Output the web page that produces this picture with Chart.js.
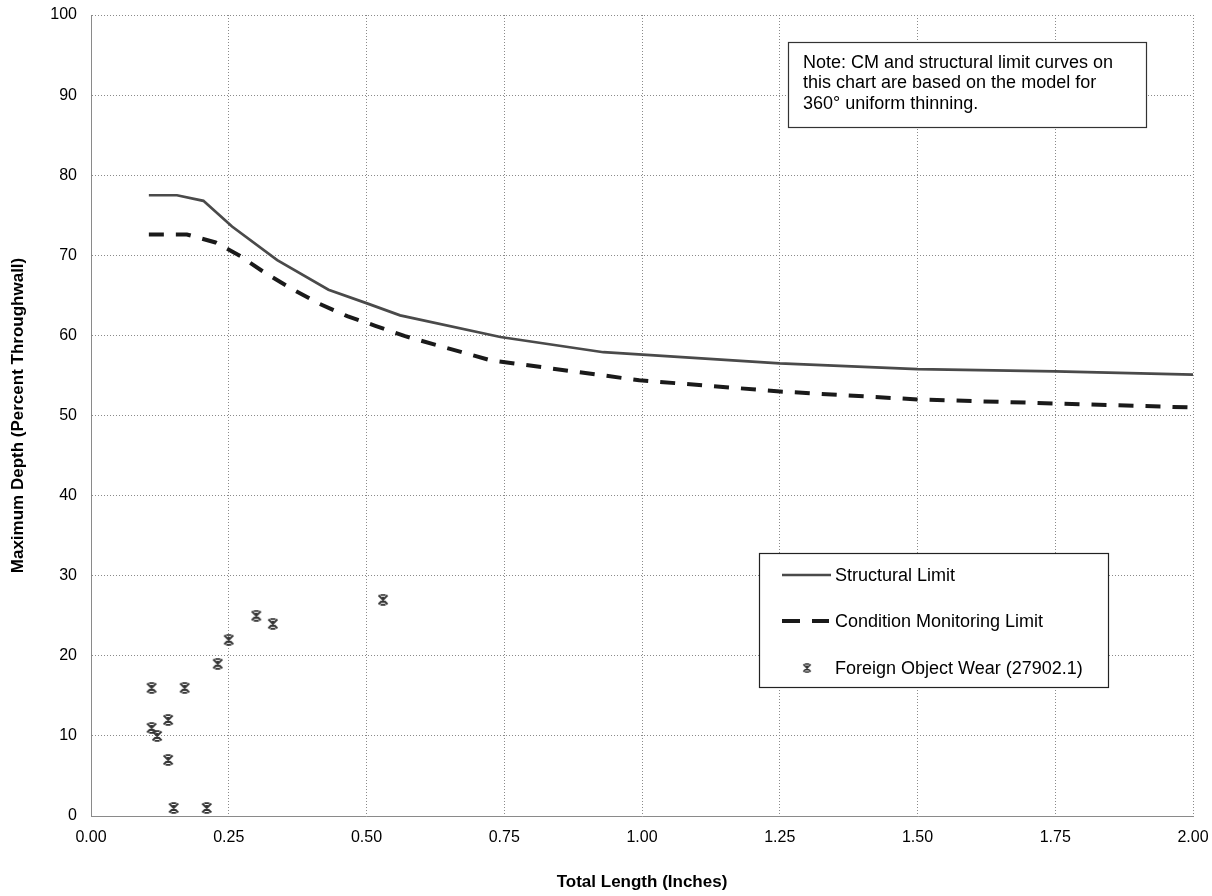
<!DOCTYPE html>
<html>
<head>
<meta charset="utf-8">
<script src="https://cdn.jsdelivr.net/npm/chart.js@4.4.0/dist/chart.umd.min.js"></script>
<style>
html,body{margin:0;padding:0;background:#fff;}
#wrap{width:1212px;height:896px;position:relative;}
</style>
</head>
<body>
<div id="wrap"><canvas id="c" width="1212" height="896"></canvas></div>
<script>
// ---- data ----
const structuralX = [0.105,0.156,0.204,0.256,0.338,0.431,0.501,0.561,0.743,0.93,1.25,1.50,1.75,2.00];
const structuralY = [77.5,77.5,76.8,73.6,69.4,65.7,64.0,62.5,59.8,57.9,56.5,55.8,55.5,55.1];
const cmX = [0.105,0.174,0.226,0.271,0.316,0.365,0.413,0.465,0.516,0.570,0.725,0.995,1.25,1.50,1.75,2.00];
const cmY = [72.6,72.6,71.6,69.9,67.8,65.8,64.0,62.4,61.2,59.9,56.9,54.4,53.0,52.0,51.5,51.0];
const wearX = [0.11,0.17,0.14,0.11,0.12,0.14,0.15,0.21,0.23,0.25,0.30,0.33,0.53];
const wearY = [16,16,12,11,10,7,1,1,19,22,25,24,27];
const seriesNames = ['Structural Limit','Condition Monitoring Limit','Foreign Object Wear (27902.1)'];
const noteLines = ['Note: CM and structural limit curves on','this chart are based on the model for','360\u00b0 uniform thinning.'];
const xTitle = 'Total Length (Inches)';
const yTitle = 'Maximum Depth (Percent Throughwall)';

const toPts = (xs, ys) => xs.map((x, i) => ({x: x, y: ys[i]}));

function makeStar(){
  const c = document.createElement('canvas');
  c.width = 12; c.height = 12;
  const g = c.getContext('2d');
  g.strokeStyle = '#333'; g.lineWidth = 1.8;
  g.beginPath();
  g.moveTo(1.5,1.5); g.lineTo(10.5,10.5);
  g.moveTo(10.5,1.5); g.lineTo(1.5,10.5);
  g.moveTo(6,3); g.lineTo(6,9);
  g.moveTo(3.5,1.2); g.lineTo(8.5,1.2);
  g.moveTo(3.5,10.8); g.lineTo(8.5,10.8);
  g.stroke();
  return c;
}
const star = makeStar();

const FONT = '"Liberation Sans", Arial, sans-serif';

const boxesPlugin = {
  id: 'boxes',
  afterDraw(chart){
    const ctx = chart.ctx;
    ctx.save();
    // note box
    ctx.fillStyle = '#fff';
    ctx.fillRect(788, 42, 358, 85);
    ctx.strokeStyle = '#333'; ctx.lineWidth = 1.2; ctx.setLineDash([]);
    ctx.strokeRect(788.5, 42.5, 358, 85);
    ctx.fillStyle = '#000';
    ctx.font = '18px ' + FONT;
    ctx.textBaseline = 'middle';
    noteLines.forEach((t, i) => ctx.fillText(t, 803, 63 + i * 20.5));
    // legend
    ctx.fillStyle = '#fff';
    ctx.fillRect(759, 553, 349, 134);
    ctx.strokeStyle = '#222'; ctx.lineWidth = 1.2;
    ctx.strokeRect(759.5, 553.5, 349, 134);
    ctx.strokeStyle = '#4a4a4a'; ctx.lineWidth = 2.5;
    ctx.beginPath(); ctx.moveTo(782, 575); ctx.lineTo(831, 575); ctx.stroke();
    ctx.strokeStyle = '#1a1a1a'; ctx.lineWidth = 4;
    ctx.beginPath(); ctx.moveTo(782, 621); ctx.lineTo(800, 621); ctx.moveTo(812, 621); ctx.lineTo(829, 621); ctx.stroke();
    ctx.drawImage(star, 802, 663, 10, 10);
    ctx.fillStyle = '#000';
    ctx.font = '18px ' + FONT;
    ctx.fillText(seriesNames[0], 835, 576);
    ctx.fillText(seriesNames[1], 835, 622);
    ctx.fillText(seriesNames[2], 835, 669);
    ctx.restore();
  }
};

new Chart(document.getElementById('c'), {
  type: 'scatter',
  data: {
    datasets: [
      {label: seriesNames[0], data: toPts(structuralX, structuralY), showLine: true, borderColor: '#4a4a4a', borderWidth: 2.7, pointRadius: 0, fill: false, tension: 0},
      {label: seriesNames[1], data: toPts(cmX, cmY), showLine: true, borderColor: '#1a1a1a', borderWidth: 4, borderDash: [15, 12], pointRadius: 0, fill: false, tension: 0},
      {label: seriesNames[2], data: toPts(wearX, wearY), showLine: false, pointStyle: star, pointRadius: 6}
    ]
  },
  options: {
    responsive: false,
    animation: false,
    events: [],
    layout: {padding: {left: 0, right: 19, top: 15, bottom: 0}},
    plugins: {legend: {display: false}, tooltip: {enabled: false}},
    scales: {
      x: {
        type: 'linear', min: 0, max: 2,
        afterFit(s){ s.height = 80; s.paddingLeft = 0; s.paddingRight = 0; },
        ticks: {stepSize: 0.25, padding: 12, color: '#000', font: {family: FONT, size: 16}, callback: v => Number(v).toFixed(2), maxRotation: 0},
        grid: {color: '#8a8a8a', lineWidth: 1, drawTicks: false},
        border: {display: true, color: '#8a8a8a', dash: [1, 2]},
        title: {display: true, text: xTitle, color: '#000', font: {family: FONT, size: 17, weight: 'bold'}, padding: {top: 0, bottom: 3}}
      },
      y: {
        type: 'linear', min: 0, max: 100,
        afterFit(s){ s.width = 91; s.paddingTop = 0; s.paddingBottom = 0; },
        ticks: {stepSize: 10, padding: 14, color: '#000', font: {family: FONT, size: 16}},
        grid: {color: '#8a8a8a', lineWidth: 1, drawTicks: false},
        border: {display: true, color: '#8a8a8a', dash: [1, 2]},
        title: {display: true, text: yTitle, color: '#000', font: {family: FONT, size: 17, weight: 'bold'}, padding: {top: 8, bottom: 0}}
      }
    }
  },
  plugins: [boxesPlugin]
});
</script>
</body>
</html>
